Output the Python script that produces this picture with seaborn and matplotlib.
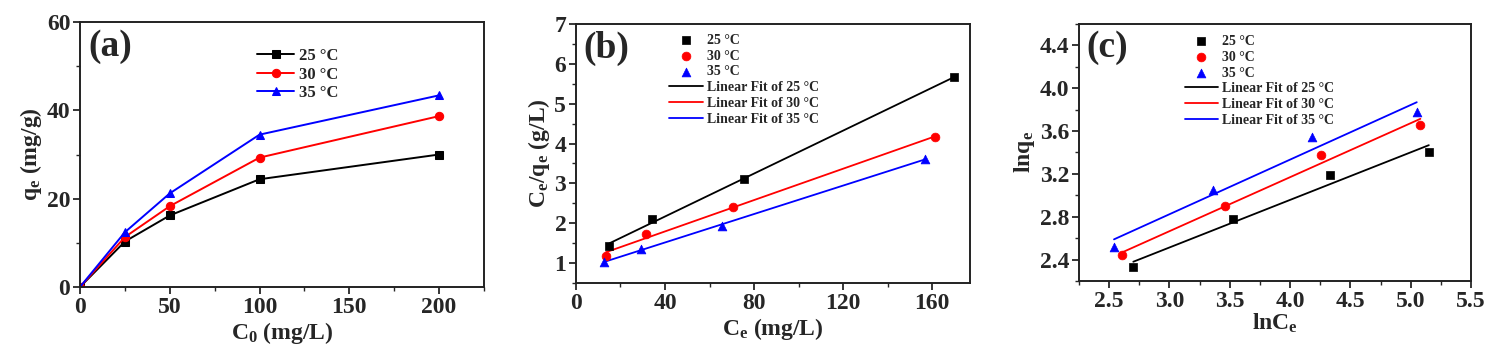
import numpy as np
import matplotlib
matplotlib.use("Agg")
import matplotlib.pyplot as plt
from matplotlib.ticker import MultipleLocator, FormatStrFormatter
import seaborn as sns

temps = ["25 °C", "30 °C", "35 °C"]
colors = ["#000000", "#ff0000", "#0000ff"]
markers = ["s", "o", "^"]

# (a) adsorption isotherm
c0 = [0, 25, 50, 100, 200]
qe_25 = [0, 10.3, 16.2, 24.4, 30.0]
qe_30 = [0, 11.3, 18.3, 29.3, 38.7]
qe_35 = [0, 12.4, 21.2, 34.5, 43.4]

# (b) Langmuir
ce_b_25 = [15.0, 34.0, 75.5, 170.0]
ceqe_25 = [1.43, 2.10, 3.10, 5.67]
ce_b_30 = [13.5, 31.5, 70.5, 161.5]
ceqe_30 = [1.18, 1.73, 2.40, 4.17]
ce_b_35 = [12.8, 29.0, 65.5, 157.0]
ceqe_35 = [1.03, 1.36, 1.92, 3.62]

# (c) Freundlich
lnce_25 = [2.70, 3.53, 4.33, 5.15]
lnqe_25 = [2.33, 2.78, 3.19, 3.40]
lnce_30 = [2.61, 3.46, 4.26, 5.08]
lnqe_30 = [2.44, 2.90, 3.38, 3.66]
lnce_35 = [2.54, 3.36, 4.18, 5.05]
lnqe_35 = [2.52, 3.05, 3.54, 3.78]

sns.set_style("ticks")
plt.rcParams["font.family"] = ["Liberation Serif", "DejaVu Serif"]
plt.rcParams["font.weight"] = "bold"
plt.rcParams["axes.labelweight"] = "bold"
plt.rcParams["mathtext.fontset"] = "custom"
plt.rcParams["mathtext.rm"] = "Liberation Serif:bold"
plt.rcParams["mathtext.it"] = "Liberation Serif:bold"
plt.rcParams["mathtext.bf"] = "Liberation Serif:bold"
plt.rcParams["mathtext.default"] = "bf"

fig = plt.figure(figsize=(14.98, 3.59), dpi=100)
ax_a = fig.add_axes([0.0534, 0.2006, 0.2697, 0.738])
ax_b = fig.add_axes([0.3845, 0.2117, 0.2630, 0.7214])
ax_c = fig.add_axes([0.7203, 0.2173, 0.2617, 0.7160])


def style_axis(ax):
    for sp in ax.spines.values():
        sp.set_linewidth(1.4)
        sp.set_color("#222222")
    ax.tick_params(which="major", direction="out", length=5, width=1.3,
                   labelsize=17, pad=2, top=False, right=False)
    ax.tick_params(which="minor", direction="out", length=3, width=1.0,
                   top=False, right=False)
    for lab in ax.get_xticklabels() + ax.get_yticklabels():
        lab.set_fontweight("bold")


# panel a
for q, t, c, m in zip([qe_25, qe_30, qe_35], temps, colors, markers):
    sns.lineplot(x=c0, y=q, ax=ax_a, color=c, marker=m, markersize=6,
                 markeredgecolor=c, linewidth=1.4, label=t)
ax_a.set_xlim(0, 225)
ax_a.set_ylim(0, 60)
ax_a.xaxis.set_major_locator(MultipleLocator(50))
ax_a.xaxis.set_minor_locator(MultipleLocator(25))
ax_a.yaxis.set_major_locator(MultipleLocator(20))
ax_a.yaxis.set_minor_locator(MultipleLocator(10))
ax_a.set_xlabel(r"C$_0$ (mg/L)", fontsize=17, labelpad=2)
ax_a.set_ylabel(r"q$_e$ (mg/g)", fontsize=17, labelpad=2)
ax_a.legend(loc="upper left", bbox_to_anchor=(0.41, 0.945), frameon=False,
            fontsize=12, handlelength=2.2, labelspacing=0.15, handletextpad=0.3,
            borderaxespad=0.3)
ax_a.text(0.02, 0.975, "(a)", transform=ax_a.transAxes, fontsize=27,
          fontweight="bold", va="top")


# panels b and c
def fit_panel(ax, xs, ys):
    for x, y, t, c, m in zip(xs, ys, temps, colors, markers):
        sns.scatterplot(x=x, y=y, ax=ax, color=c, marker=m, s=40,
                        edgecolor=c, linewidth=0.5, label=t, zorder=3)
    for x, y, t, c in zip(xs, ys, temps, colors):
        sns.regplot(x=np.array(x), y=np.array(y), ax=ax, scatter=False,
                    ci=None, truncate=True, color=c,
                    label="Linear Fit of " + t, line_kws={"linewidth": 1.3})


fit_panel(ax_b, [ce_b_25, ce_b_30, ce_b_35], [ceqe_25, ceqe_30, ceqe_35])
ax_b.set_xlim(0, 177)
ax_b.set_ylim(0.5, 7)
ax_b.xaxis.set_major_locator(MultipleLocator(40))
ax_b.xaxis.set_minor_locator(MultipleLocator(20))
ax_b.yaxis.set_major_locator(MultipleLocator(1))
ax_b.yaxis.set_minor_locator(MultipleLocator(0.5))
ax_b.set_xlabel(r"C$_e$ (mg/L)", fontsize=17, labelpad=2)
ax_b.set_ylabel(r"C$_e$/q$_e$ (g/L)", fontsize=17, labelpad=2)
ax_b.legend(loc="upper left", bbox_to_anchor=(0.212, 1.0), frameon=False,
            fontsize=10, handlelength=2.4, labelspacing=0.2, handletextpad=0.3,
            borderaxespad=0.3)
ax_b.text(0.02, 0.975, "(b)", transform=ax_b.transAxes, fontsize=27,
          fontweight="bold", va="top")

fit_panel(ax_c, [lnce_25, lnce_30, lnce_35], [lnqe_25, lnqe_30, lnqe_35])
ax_c.set_xlim(2.25, 5.5)
ax_c.set_ylim(2.2, 4.6)
ax_c.xaxis.set_major_locator(MultipleLocator(0.5))
ax_c.xaxis.set_minor_locator(MultipleLocator(0.25))
ax_c.yaxis.set_major_locator(MultipleLocator(0.4))
ax_c.yaxis.set_minor_locator(MultipleLocator(0.2))
ax_c.xaxis.set_major_formatter(FormatStrFormatter("%.1f"))
ax_c.yaxis.set_major_formatter(FormatStrFormatter("%.1f"))
ax_c.set_xlabel(r"lnC$_e$", fontsize=17, labelpad=0)
ax_c.set_ylabel(r"lnq$_e$", fontsize=17, labelpad=2)
ax_c.legend(loc="upper left", bbox_to_anchor=(0.245, 0.995), frameon=False,
            fontsize=10, handlelength=2.4, labelspacing=0.2, handletextpad=0.3,
            borderaxespad=0.3)
ax_c.text(0.02, 0.975, "(c)", transform=ax_c.transAxes, fontsize=27,
          fontweight="bold", va="top")

for ax in (ax_a, ax_b, ax_c):
    style_axis(ax)

fig.savefig("out.png", dpi=100, facecolor="white")
